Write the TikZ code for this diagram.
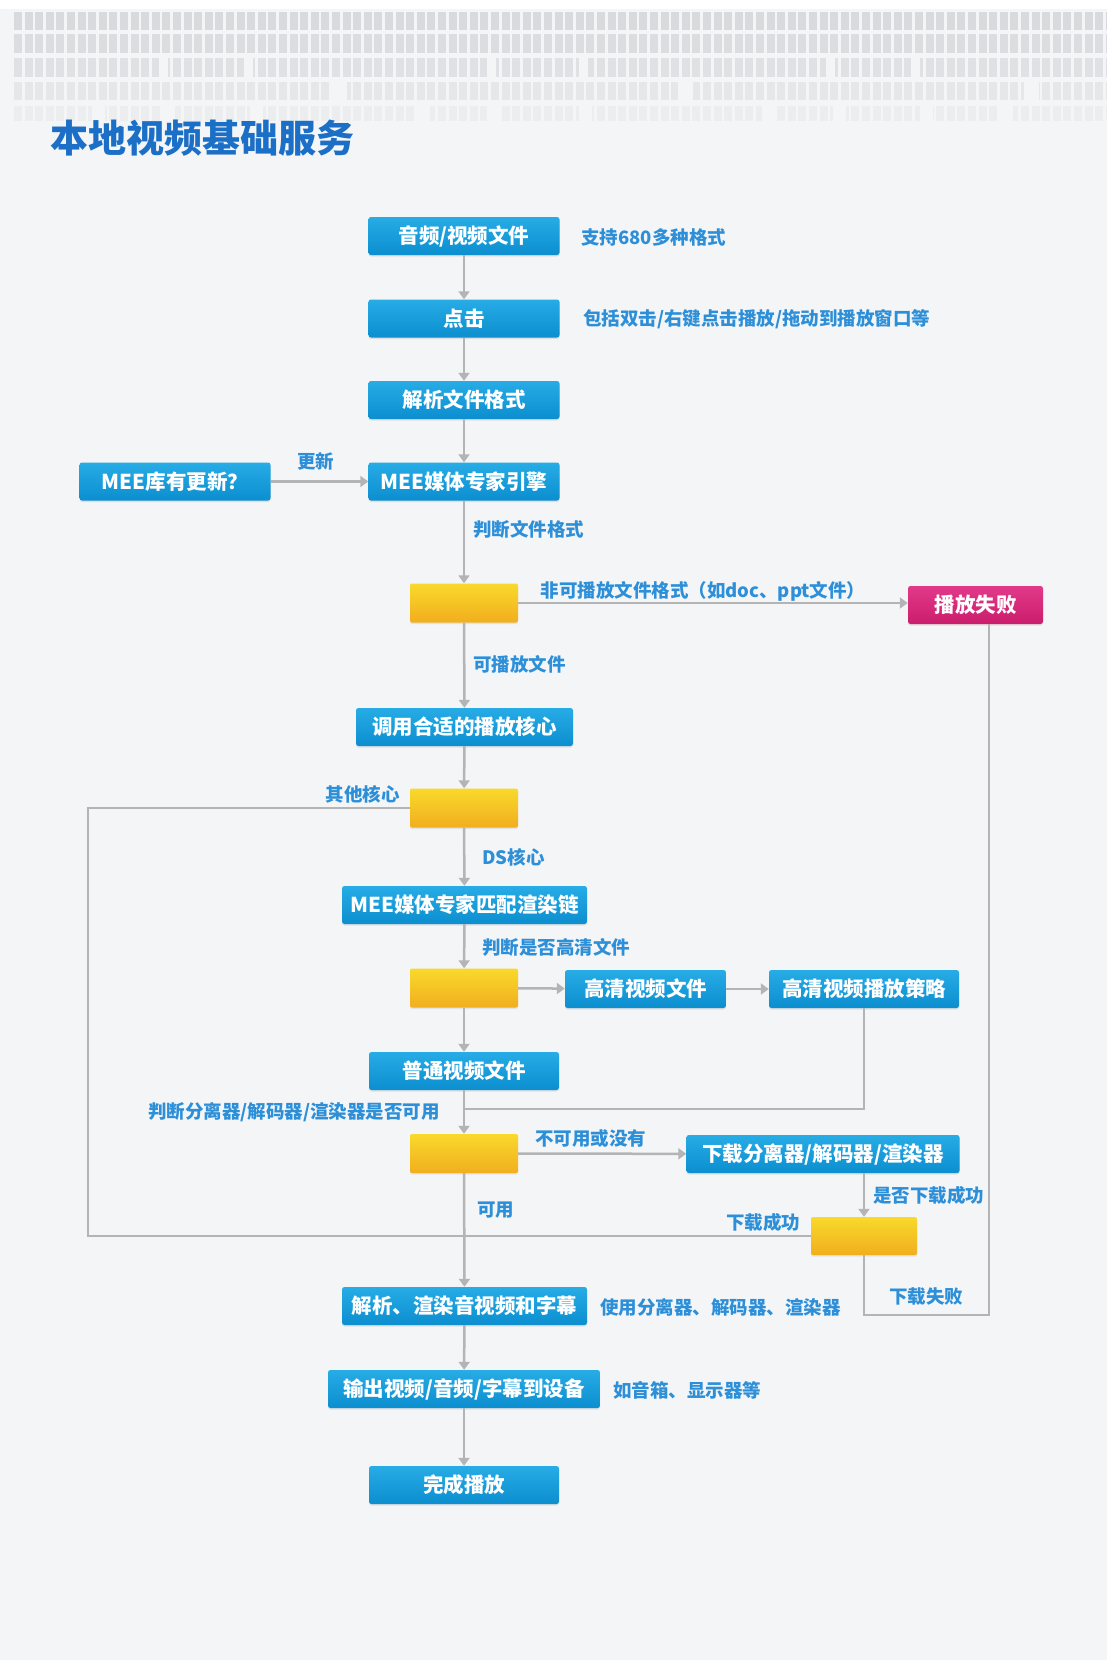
\documentclass[tikz,border=0pt]{standalone}
\usepackage{fontspec}
\newfontfamily\cjk{Noto Sans CJK SC}
\usetikzlibrary{arrows.meta,shadows}
\definecolor{bgc}{HTML}{F4F5F7}
\definecolor{boxtop}{HTML}{27ACE6}
\definecolor{boxbot}{HTML}{0C8ECF}
\definecolor{yeltop}{HTML}{F9D92C}
\definecolor{yelbot}{HTML}{F1AE1E}
\definecolor{magtop}{HTML}{E2398A}
\definecolor{magbot}{HTML}{CB1D6C}
\definecolor{lblc}{HTML}{2D8FD8}
\definecolor{titc}{HTML}{1C6FC6}
\definecolor{linec}{HTML}{B4B4B6}
\begin{document}
\begin{tikzpicture}[x=1pt,y=-1pt,
  stepbox/.style={rectangle, rounded corners=2.5pt, top color=boxtop, bottom color=boxbot,
    text=white, font=\cjk\bfseries\fontsize{20.5}{23}\selectfont, minimum height=38pt, inner sep=0pt,
    drop shadow={opacity=0.18,shadow xshift=0pt,shadow yshift=-1.5pt}},
  decbox/.style={rectangle, rounded corners=2pt, top color=yeltop, bottom color=yelbot,
    minimum width=108pt, minimum height=39pt, inner sep=0pt,
    drop shadow={opacity=0.15,shadow xshift=0pt,shadow yshift=-1.5pt}},
  failbox/.style={stepbox, top color=magtop, bottom color=magbot},
  lbl/.style={text=lblc, font=\cjk\bfseries\fontsize{18.5}{21}\selectfont, inner sep=0pt},
  conn/.style={draw=linec, line width=2.5pt},
  arr/.style={conn, -{Triangle[length=8pt,width=11pt]}},
]
\useasboundingbox (0,0) rectangle (1107,1660);
% background
\fill[bgc] (0,0) rectangle (1107,1660);
\fill[white] (0,0) rectangle (1107,9);
% top pattern
\draw[color={rgb,255:red,217;green,218;blue,221}, line width=18pt, dash pattern=on 8pt off 2.6pt] (14,21) -- (1107,21);
\draw[color={rgb,255:red,220;green,221;blue,224}, line width=19pt, dash pattern=on 8pt off 2.6pt] (14,43) -- (1107,43);
\draw[color={rgb,255:red,224;green,225;blue,228}, line width=19pt, dash pattern=on 8pt off 2.6pt] (14,67) -- (1107,67);
\draw[color={rgb,255:red,230;green,231;blue,233}, line width=18pt, dash pattern=on 8pt off 2.6pt] (14,91) -- (1107,91);
\draw[color={rgb,255:red,236;green,237;blue,239}, line width=15pt, dash pattern=on 8pt off 2.6pt] (14,113) -- (1107,113);
\foreach \gx in {159,244,487,579,826,911}
  \fill[bgc] (\gx,57) rectangle ++(9,21);
\foreach \gx in {332,678,1024}
  \fill[bgc] (\gx,81) rectangle ++(15,20);
\foreach \gx in {92,162,250,417,487,579,762,833,920,1000}
  \fill[bgc] (\gx,104) rectangle ++(13,18);
% title
\node[anchor=west, text=titc, font=\cjk\bfseries\fontsize{38}{42}\selectfont, inner sep=0pt] (title) at (50,138) {本地视频基础服务};
% main nodes
\node[stepbox, minimum width=191pt] (n1) at (464,236) {音频/视频文件};
\node[stepbox, minimum width=191pt] (n2) at (464,318.5) {点击};
\node[stepbox, minimum width=191pt] (n3) at (464,400) {解析文件格式};
\node[stepbox, minimum width=191pt] (n4) at (464,481.5) {MEE媒体专家引擎};
\node[stepbox, minimum width=191pt] (mee) at (175,481.5) {MEE库有更新？};
\node[decbox] (d1) at (464,603) {};
\node[failbox, minimum width=135pt] (fail) at (975.5,605) {播放失败};
\node[stepbox, minimum width=217pt] (n5) at (464.5,727) {调用合适的播放核心};
\node[decbox] (d2) at (464,808) {};
\node[stepbox, minimum width=245pt] (n6) at (464.5,905) {MEE媒体专家匹配渲染链};
\node[decbox] (d3) at (464,988) {};
\node[stepbox, minimum width=161pt] (hd1) at (645.5,989) {高清视频文件};
\node[stepbox, minimum width=190pt] (hd2) at (864,989) {高清视频播放策略};
\node[stepbox, minimum width=190pt] (n7) at (464,1071) {普通视频文件};
\node[decbox] (d5) at (464,1153.5) {};
\node[stepbox, minimum width=273pt] (dl) at (823,1154) {下载分离器/解码器/渲染器};
\node[decbox, minimum width=106pt, minimum height=38pt] (d4) at (864,1236) {};
\node[stepbox, minimum width=245pt] (n8) at (464.5,1306) {解析、渲染音视频和字幕};
\node[stepbox, minimum width=272pt] (n9) at (464,1389) {输出视频/音频/字幕到设备};
\node[stepbox, minimum width=190pt] (n10) at (464,1485) {完成播放};
% coordinates
\coordinate (lx) at (88,811);
\coordinate (j1) at (464,1109);
\coordinate (fr) at (989,1315);
% connectors
\draw[arr] (n1) -- (n2);
\draw[arr] (n2) -- (n3);
\draw[arr] (n3) -- (n4);
\draw[arr] (mee) -- (n4);
\draw[arr] (n4) -- (d1);
\draw[arr] (d1) -- (fail.west |- d1);
\draw[arr] (d1) -- (n5);
\draw[arr] (n5) -- (d2);
\draw[arr] (d2) -- (n6);
\draw[conn] (d2.west) -- (d2.west -| lx) |- (d4.west);
\draw[arr] (n6) -- (d3);
\draw[arr] (d3) -- (hd1);
\draw[arr] (hd1) -- (hd2);
\draw[conn] (hd2.south) |- (j1);
\draw[arr] (d3) -- (n7);
\draw[arr] (n7) -- (d5);
\draw[arr] (d5) -- (dl);
\draw[arr] (dl.south -| d4) -- (d4);
\draw[arr] (d5) -- (n8);
\draw[conn] (d4.south) |- (fr) -- (fr |- fail.south);
\draw[arr] (n8) -- (n9);
\draw[arr] (n9) -- (n10);
% labels
\node[lbl, anchor=west] (l1) at (581,237) {支持680多种格式};
\node[lbl, anchor=west] (l2) at (583,319) {包括双击/右键点击播放/拖动到播放窗口等};
\node[lbl] (l3) at (315.5,461) {更新};
\node[lbl, anchor=west] (l4) at (473,529) {判断文件格式};
\node[lbl] (l5) at (703,591) {非可播放文件格式（如doc、ppt文件）};
\node[lbl, anchor=west] (l6) at (473,664) {可播放文件};
\node[lbl, anchor=east] (l7) at (400,794) {其他核心};
\node[lbl, anchor=west] (l8) at (482,857) {DS核心};
\node[lbl, anchor=west] (l9) at (482,947) {判断是否高清文件};
\node[lbl, anchor=east] (l10) at (440,1112) {判断分离器/解码器/渲染器是否可用};
\node[lbl, anchor=west] (l11) at (535,1139) {不可用或没有};
\node[lbl, anchor=west] (l12) at (873,1195) {是否下载成功};
\node[lbl] (l13) at (763,1222) {下载成功};
\node[lbl, anchor=west] (l14) at (477,1210) {可用};
\node[lbl] (l15) at (926,1297) {下载失败};
\node[lbl, anchor=west] (l16) at (600,1307) {使用分离器、解码器、渲染器};
\node[lbl, anchor=west] (l17) at (613,1390) {如音箱、显示器等};
\end{tikzpicture}
\end{document}
